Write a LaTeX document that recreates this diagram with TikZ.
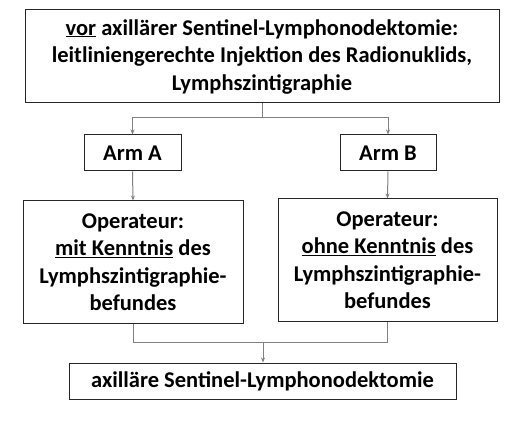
\documentclass[tikz,border=0pt]{standalone}
\usepackage{fontspec}
\setmainfont{Carlito}
\usetikzlibrary{arrows.meta}
\begin{document}
\begin{tikzpicture}[x=1pt,y=1pt,
  box/.style={draw=black!85, line width=1pt, align=center, inner sep=0pt,
    font=\fontsize{22.5}{27.5}\selectfont\bfseries},
  conn/.style={draw=black!50, line width=1pt},
  arr/.style={conn, -{Stealth[length=5pt,width=4pt]}}]
\useasboundingbox (0,0) rectangle (517,-422);
\node[box, minimum width=474pt, minimum height=93pt] (top) at (262,-56.5)
  {\underline{vor} axillärer Sentinel-Lymphonodektomie:\\leitliniengerechte Injektion des Radionuklids,\\Lymphszintigraphie};
\node[box, minimum width=97pt, minimum height=36pt] (armA) at (132.5,-153) {Arm A};
\node[box, minimum width=96pt, minimum height=36pt] (armB) at (388,-153) {Arm B};
\node[box, minimum width=220pt, minimum height=122pt] (opA) at (133,-262)
  {Operateur:\\\underline{mit Kenntnis} des\\Lymphszintigraphie-\\befundes};
\node[box, minimum width=219pt, minimum height=122pt] (opB) at (387.5,-260)
  {Operateur:\\\underline{ohne Kenntnis} des\\Lymphszintigraphie-\\befundes};
\node[box, minimum width=387pt, minimum height=36pt] (bot) at (262.5,-381)
  {axilläre Sentinel-Lymphonodektomie};
\draw[conn] (top.south) -- ++(0,-14) coordinate (s);
\draw[arr] (s) -| (armA.north);
\draw[arr] (s) -| (armB.north);
\draw[arr] (armA.south) -- (opA.north);
\draw[arr] (armB.south) -- (opB.north);
\coordinate (m) at (263,-342);
\draw[conn] (opA.south) |- (m);
\draw[conn] (opB.south) |- (m);
\draw[arr] (m) -- (bot.north -| m);
\end{tikzpicture}
\end{document}
